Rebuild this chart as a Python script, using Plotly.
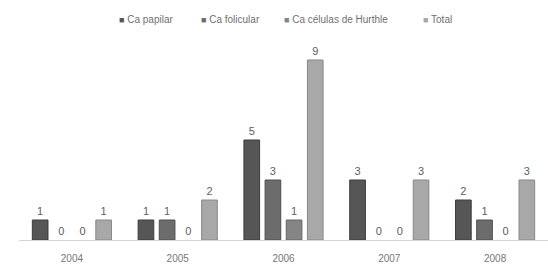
import plotly.graph_objects as go

years = ["2004", "2005", "2006", "2007", "2008"]
papilar = [1, 1, 5, 3, 2]
folicular = [0, 1, 3, 0, 1]
hurthle = [0, 0, 1, 0, 0]
total = [1, 2, 9, 3, 3]

names = ["Ca papilar", "Ca folicular", "Ca células de Hurthle", "Total"]
values = [papilar, folicular, hurthle, total]
fills = ["#565656", "#6c6c6c", "#858585", "#a8a8a8"]
edges = ["#3c3c3c", "#4e4e4e", "#666666", "#888888"]

fig = go.Figure()
for name, vals, col, line in zip(names, values, fills, edges):
    fig.add_trace(go.Bar(
        x=years, y=vals, name=name,
        marker=dict(color=col,
                    line=dict(color=line, width=[1 if v else 0 for v in vals])),
        text=[str(v) for v in vals], textposition="outside",
        textfont=dict(size=11, color="#606060", family="Liberation Sans"),
        cliponaxis=False, hoverinfo="skip",
    ))

# legend drawn as text entries (tight symbol/text spacing like the original)
L, W = 19, 529
legend_px = [117, 199, 282, 421]
for name, col, px in zip(names, fills, legend_px):
    fig.add_annotation(
        xref="paper", yref="paper", x=(px - L) / W, y=1.105,
        xanchor="left", yanchor="middle", showarrow=False,
        text=f"<span style='color:{col};font-size:9px'>■</span> {name}",
        font=dict(size=10, color="#707070", family="Liberation Sans"),
    )

fig.update_layout(
    width=548, height=270,
    margin=dict(l=19, r=0, t=40, b=30),
    paper_bgcolor="white", plot_bgcolor="white",
    barmode="group", bargap=0.2, bargroupgap=0.26,
    font=dict(family="Liberation Sans", size=10, color="#707070"),
    showlegend=False, hovermode=False,
    xaxis=dict(showline=True, linecolor="#d4d4d4", linewidth=1, ticks="",
               ticklabelstandoff=9,
               tickfont=dict(size=10, color="#777777"), fixedrange=True),
    yaxis=dict(range=[0, 10], visible=False, showgrid=False, zeroline=False,
               fixedrange=True),
)

fig.write_html("out.html", config={"displayModeBar": False, "staticPlot": True},
               post_script="document.body.style.margin='0';")
